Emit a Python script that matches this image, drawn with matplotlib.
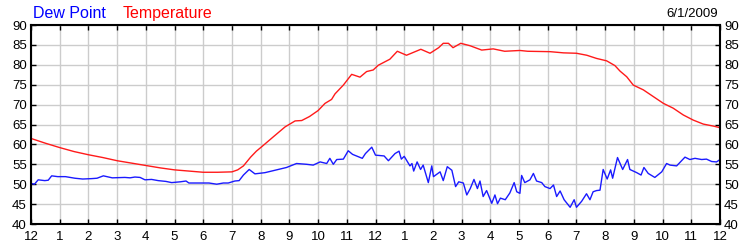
import matplotlib
matplotlib.use("Agg")
import matplotlib.pyplot as plt

plt.rcParams['font.family'] = ['Liberation Sans', 'DejaVu Sans']

# Temperature (hours since midnight, degF)
temp_hours = [0, 0.5, 1, 1.5, 2, 2.5, 3, 3.5, 4, 4.5, 5, 5.5, 6, 6.5, 7, 7.2, 7.4, 7.65, 7.85,
              8.05, 8.44, 8.85, 9.2, 9.43, 9.7, 10.0, 10.24, 10.47, 10.59, 10.88, 11.17, 11.46,
              11.69, 11.92, 12.1, 12.5, 12.76, 13.08, 13.58, 13.9, 14.2, 14.36, 14.54, 14.7,
              14.97, 15.29, 15.7, 16.1, 16.5, 17.03, 17.3, 18.08, 18.55, 19.0, 19.36, 19.7,
              20.05, 20.34, 20.52, 20.75, 20.98, 21.33, 21.68, 22.03, 22.37, 22.72, 23.07,
              23.42, 23.77, 24.0]
temp_values = [61.5, 60.3, 59.2, 58.2, 57.4, 56.7, 55.9, 55.3, 54.7, 54.1, 53.6, 53.3, 53.0, 53.0,
               53.1, 53.6, 54.6, 56.8, 58.3, 59.5, 61.9, 64.4, 65.9, 66.0, 67.0, 68.5, 70.3, 71.3,
               72.7, 74.9, 77.6, 76.9, 78.3, 78.7, 79.9, 81.4, 83.4, 82.4, 83.9, 82.9, 84.3, 85.4,
               85.4, 84.3, 85.4, 84.8, 83.7, 84.0, 83.4, 83.6, 83.4, 83.3, 83.0, 82.9, 82.4, 81.6,
               81.0, 79.8, 78.4, 77.0, 74.9, 73.7, 72.0, 70.3, 69.1, 67.4, 66.1, 65.1, 64.6, 64.2]

# Dew point (hours since midnight, degF)
dew_hours = [0, 0.12, 0.25, 0.48, 0.6, 0.72, 0.93, 1.2, 1.53, 1.8, 2.11, 2.3, 2.52, 2.7, 2.83,
             3.27, 3.45, 3.62, 3.8, 3.97, 4.2, 4.43, 4.7, 4.9, 5.2, 5.4, 5.5, 5.8, 6.2, 6.47,
             6.7, 6.87, 7.1, 7.25, 7.4, 7.6, 7.8, 8.15, 8.32, 8.6, 8.9, 9.25, 9.6, 9.83, 10.07,
             10.3, 10.41, 10.53, 10.65, 10.88, 11.05, 11.2, 11.54, 11.65, 11.87, 12.0, 12.15,
             12.3, 12.45, 12.68, 12.82, 12.9, 13.0, 13.2, 13.27, 13.33, 13.45, 13.57, 13.66,
             13.84, 13.96, 14.02, 14.25, 14.36, 14.5, 14.66, 14.79, 14.9, 15.06, 15.18, 15.3,
             15.43, 15.55, 15.64, 15.75, 15.87, 16.05, 16.16, 16.25, 16.35, 16.52, 16.68, 16.83,
             16.92, 17.03, 17.09, 17.2, 17.38, 17.5, 17.61, 17.79, 17.9, 18.08, 18.2, 18.31,
             18.43, 18.57, 18.78, 18.92, 19.0, 19.18, 19.35, 19.47, 19.58, 19.7, 19.82, 19.93,
             20.07, 20.19, 20.26, 20.43, 20.61, 20.78, 20.86, 21.1, 21.25, 21.35, 21.5, 21.73,
             21.97, 22.14, 22.26, 22.49, 22.78, 22.95, 23.13, 23.36, 23.53, 23.71, 23.88, 24.0]
dew_values = [50.2, 50.0, 51.1, 50.9, 51.0, 52.1, 51.9, 51.9, 51.5, 51.3, 51.4, 51.5, 52.1, 51.8,
              51.6, 51.7, 51.6, 51.8, 51.7, 51.1, 51.2, 50.9, 50.7, 50.4, 50.6, 50.8, 50.3, 50.3,
              50.3, 50.0, 50.3, 50.3, 50.8, 50.9, 52.3, 53.7, 52.6, 52.9, 53.2, 53.7, 54.2, 55.2,
              55.0, 54.8, 55.6, 55.2, 56.5, 55.0, 56.2, 56.3, 58.4, 57.5, 56.5, 57.7, 59.3, 57.3,
              57.2, 57.1, 55.9, 57.7, 58.3, 56.3, 57.0, 54.6, 55.2, 53.3, 55.6, 53.7, 54.8, 50.4,
              54.6, 51.9, 53.1, 50.9, 54.4, 53.5, 49.4, 50.6, 50.3, 47.3, 48.9, 51.2, 48.9, 50.8,
              46.9, 48.4, 45.2, 47.3, 45.1, 46.5, 46.1, 47.8, 50.4, 48.1, 47.7, 52.2, 50.4, 51.1,
              52.7, 50.8, 50.4, 49.4, 48.9, 49.8, 46.9, 48.3, 46.1, 44.2, 46.1, 44.2, 45.7, 47.6,
              46.1, 48.1, 48.4, 48.5, 53.7, 51.3, 53.6, 51.5, 56.7, 53.7, 56.2, 53.7, 52.9, 52.3,
              54.2, 52.7, 51.7, 53.1, 55.2, 54.8, 54.6, 56.8, 56.2, 56.5, 56.2, 56.3, 55.7, 55.6,
              56.2]

x_ticks = list(range(0, 25))
x_labels = ['12'] + [str(i) for i in range(1, 12)] + ['12'] + [str(i) for i in range(1, 12)] + ['12']
y_ticks = list(range(40, 91, 5))
date_text = '6/1/2009'

fig = plt.figure(figsize=(7.5, 2.5), dpi=100)
ax = fig.add_axes([31/750, 1 - 224/250, (720 - 31)/750, (224 - 25)/250])

ax.plot(dew_hours, dew_values, color='#1a1aff', lw=1.0)
ax.plot(temp_hours, temp_values, color='#ff1a1a', lw=1.0)

ax.set_xlim(0, 24)
ax.set_ylim(40, 90)
ax.set_xticks(x_ticks)
ax.set_xticklabels(x_labels)
ax.set_yticks(y_ticks)
ax.grid(True, color='#cccccc', lw=1.0)
ax.set_axisbelow(True)

for s in ax.spines.values():
    s.set_linewidth(1.5)
    s.set_color('black')

ax.tick_params(axis='both', direction='in', length=3.6, width=1.0, labelsize=9.5,
               top=True, right=True, labelright=True, colors='black')
ax.tick_params(axis='x', pad=5)
ax.tick_params(axis='y', pad=3)
ax.tick_params(axis='y', which='both', labelright=True)
for lab in ax.get_yticklabels(which='both'):
    pass

fig.text(33/750, 1 - 18/250, 'Dew Point', color='#0000ff', fontsize=11.5, ha='left', va='baseline')
fig.text(123/750, 1 - 18/250, 'Temperature', color='#ff0000', fontsize=11.5, ha='left', va='baseline')
fig.text(718/750, 1 - 17/250, date_text, color='black', fontsize=9.5, ha='right', va='baseline')

fig.savefig('out.png', dpi=100)
